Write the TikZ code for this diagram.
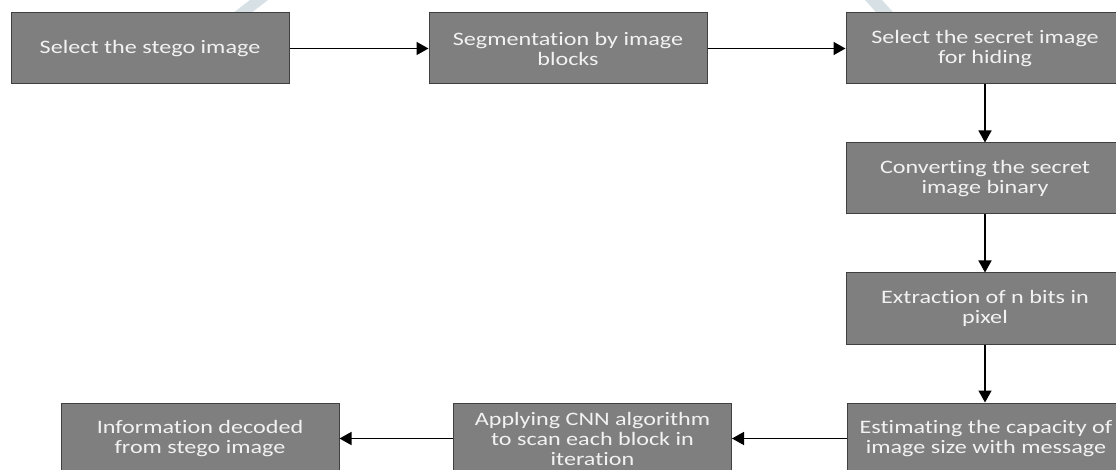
\documentclass[tikz,border=0pt]{standalone}
\usepackage{fontspec}
\setmainfont[FakeStretch=1.27,Ligatures=NoCommon]{Carlito}
\usetikzlibrary{arrows.meta}
\definecolor{boxfill}{HTML}{7F7F7F}
\definecolor{boxedge}{HTML}{404040}
\definecolor{boxtext}{HTML}{F2F2F2}
\definecolor{wmark}{HTML}{D7E0E5}
\begin{document}
\begin{tikzpicture}[x=1pt,y=-1pt,
  stage/.style={draw=boxedge, line width=1pt, fill=boxfill, text=boxtext,
    minimum width=278pt, minimum height=71pt, inner sep=0pt, align=center,
    font=\fontsize{19}{20}\selectfont},
  flow/.style={line width=1.5pt, draw=black, -{Triangle[length=12pt,width=13pt]}}]
\useasboundingbox (0,0) rectangle (1116,470);
\clip (0,0) rectangle (1116,470);
\fill[white] (0,0) rectangle (1116,470);

% faint background strokes
\fill[wmark] (250,0) -- (268,0) -- (242,20) -- (224,20) -- cycle;
\fill[wmark] (865,0) -- (882,0) -- (900,20) -- (883,20) -- cycle;

% top row
\node[stage] (s1) at (150,48.5) {Select the stego image};
\node[stage] (s2) at (568,48.5) {Segmentation by image\\blocks};
\node[stage] (s3) at (985,48.5) {Select the secret image\\for hiding};
% right column
\node[stage] (s4) at (985,178.5) {Converting the secret\\image binary};
\node[stage] (s5) at (985,308.5) {Extraction of n bits in\\pixel};
% bottom row
\node[stage] (s6) at (986,438.5) {Estimating the capacity of\\image size with message};
\node[stage] (s7) at (592.5,438.5) {Applying CNN algorithm\\to scan each block in\\iteration};
\node[stage] (s8) at (200,438.5) {Information decoded\\from stego image};

\draw[flow] (s1) -- (s2);
\draw[flow] (s2) -- (s3);
\draw[flow] (s3) -- (s4);
\draw[flow] (s4) -- (s5);
\draw[flow] (s5.south) -- (s6.north -| s5.south);
\draw[flow] (s6) -- (s7);
\draw[flow] (s7) -- (s8);
\end{tikzpicture}
\end{document}
